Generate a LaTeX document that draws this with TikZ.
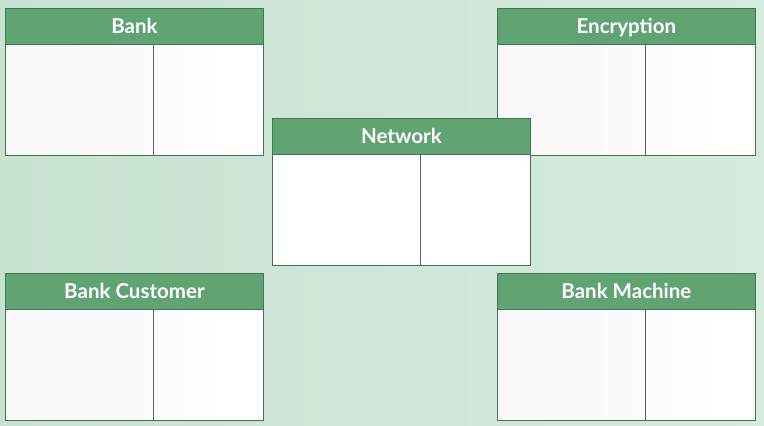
\documentclass[tikz,border=0pt]{standalone}
\usepackage{fontspec}
\setmainfont{Lato}
\definecolor{bgA}{HTML}{C8E2D2}
\definecolor{bgB}{HTML}{D4EBDD}
\definecolor{hdr}{HTML}{62A374}
\definecolor{hdrline}{HTML}{3E7A50}
\definecolor{bodyline}{HTML}{4D6B58}
\tikzset{
  cardhead/.style={draw=hdrline, line width=0.8pt, fill=hdr, anchor=north west,
    minimum width=258pt, minimum height=36pt, inner sep=0pt, text=white,
    text height=14.5pt, text depth=0pt,
    font=\fontsize{20.5}{22}\selectfont\bfseries},
  cardbody/.style={draw=bodyline, line width=0.8pt, anchor=north west,
    minimum width=258pt, minimum height=111pt, inner sep=0pt,
    left color=gray!6, right color=white},
  plainbody/.style={cardbody, fill=white, left color=white, right color=white},
  divline/.style={draw=bodyline, line width=0.8pt}
}
\begin{document}
\begin{tikzpicture}[x=1pt,y=-1pt]
\useasboundingbox (0,0) rectangle (764,426);
\shade[left color=bgA, right color=bgB] (0,0) rectangle (764,426);
% Bank
\node[cardbody] (bankb) at (5,44) {};
\node[cardhead] (bankh) at (5,8) {Bank};
\draw[divline] ([xshift=148pt]bankb.north west) coordinate (bankd1) -- ([xshift=148pt]bankb.south west) coordinate (bankd2);
% Encryption
\node[cardbody] (encb) at (497,44) {};
\node[cardhead] (ench) at (497,8) {Encryption};
\draw[divline] ([xshift=148pt]encb.north west) coordinate (encd1) -- ([xshift=148pt]encb.south west) coordinate (encd2);
% Network
\node[plainbody] (netb) at (272,154) {};
\node[cardhead] (neth) at (272,118) {Network};
\draw[divline] ([xshift=148pt]netb.north west) coordinate (netd1) -- ([xshift=148pt]netb.south west) coordinate (netd2);
% Bank Customer
\node[cardbody] (custb) at (5,309) {};
\node[cardhead] (custh) at (5,273) {Bank Customer};
\draw[divline] ([xshift=148pt]custb.north west) coordinate (custd1) -- ([xshift=148pt]custb.south west) coordinate (custd2);
% Bank Machine
\node[cardbody] (machb) at (497,309) {};
\node[cardhead] (machh) at (497,273) {Bank Machine};
\draw[divline] ([xshift=148pt]machb.north west) coordinate (machd1) -- ([xshift=148pt]machb.south west) coordinate (machd2);
\end{tikzpicture}
\end{document}
